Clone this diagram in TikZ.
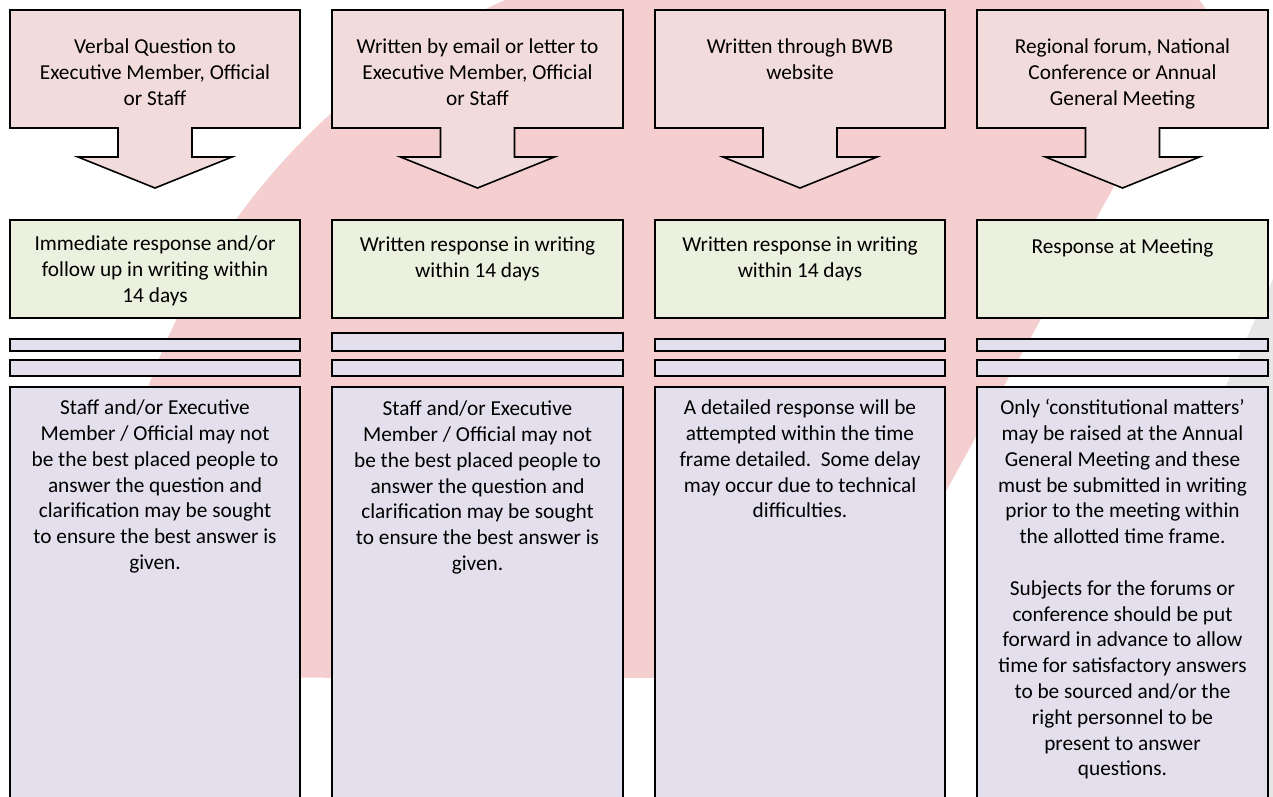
\documentclass[tikz,border=0pt]{standalone}
\usepackage{fontspec}
\setmainfont{Carlito}
\definecolor{bgpink}{HTML}{F5CED0}
\definecolor{bggray}{HTML}{E6E6E6}
\definecolor{toppink}{HTML}{F2DCDB}
\definecolor{resgreen}{HTML}{EBF1DE}
\definecolor{notelav}{HTML}{E4DFEC}
\tikzset{
  outline/.style={draw=black, line width=1.6pt, line join=miter},
  qbox/.style={outline, fill=toppink},
  rbox/.style={outline, fill=resgreen},
  lbox/.style={outline, fill=notelav},
  txt/.style={anchor=north, inner sep=0pt, align=center, font=\fontsize{21.3}{25.8}\selectfont}
}
\begin{document}
\begin{tikzpicture}[x=1pt,y=-1pt]
\clip (0,0) rectangle (1273,796);
\fill[white] (0,0) rectangle (1273,796);
% background logo shapes
\fill[bggray] (1290,240) -- (1000,900) -- (1320,900) -- cycle;
\fill[bgpink] (843,678) -- (1203,25) .. controls (1212,8) and (1200,-2) .. (1185,-8)
  .. controls (900,-150) and (620,-60) .. (505,0)
  arc[start angle=245.8, end angle=174.3, radius=670] -- cycle;
% columns
\foreach \L/\R/\by in {10/300/339, 332/623/333, 655/945/339, 977/1268/339}{
  \pgfmathsetmacro{\c}{(\L+\R)/2}
  \draw[qbox] (\L,10) -- (\R,10) -- (\R,128) -- (\c+37,128) -- (\c+37,157) -- (\c+77,157)
    -- (\c,188) -- (\c-77,157) -- (\c-37,157) -- (\c-37,128) -- (\L,128) -- cycle;
  \draw[rbox] (\L,220) rectangle (\R,318);
  \draw[lbox] (\L,\by) rectangle (\R,351);
  \draw[lbox] (\L,360) rectangle (\R,376);
  \draw[lbox] (\L,387) rectangle (\R,820);
}
% question texts
\node[txt] (q1) at (155,35.5) {\strut Verbal Question to\\Executive Member, Official\\or Staff};
\node[txt] (q2) at (477.5,35.5) {\strut Written by email or letter to\\Executive Member, Official\\or Staff};
\node[txt] (q3) at (800,35.5) {\strut Written through BWB\\website};
\node[txt] (q4) at (1122.5,35.5) {\strut Regional forum, National\\Conference or Annual\\General Meeting};
% response texts
\node[txt] (r1) at (155,232.5) {\strut Immediate response and/or\\follow up in writing within\\14 days};
\node[txt] (r2) at (477.5,233.5) {\strut Written response in writing\\within 14 days};
\node[txt] (r3) at (800,233.5) {\strut Written response in writing\\within 14 days};
\node[txt] (r4) at (1122.5,235) {\strut Response at Meeting};
% note texts
\node[txt] (n1) at (155,396.5) {\strut Staff and/or Executive\\Member / Official may not\\be the best placed people to\\answer the question and\\clarification may be sought\\to ensure the best answer is\\given.};
\node[txt] (n2) at (477.5,397.5) {\strut Staff and/or Executive\\Member / Official may not\\be the best placed people to\\answer the question and\\clarification may be sought\\to ensure the best answer is\\given.};
\node[txt] (n3) at (800,396.5) {\strut A detailed response will be\\attempted within the time\\frame detailed.\ \ Some delay\\may occur due to technical\\difficulties.};
\node[txt] (n4) at (1122.5,396.5) {\strut Only ‘constitutional matters’\\may be raised at the Annual\\General Meeting and these\\must be submitted in writing\\prior to the meeting within\\the allotted time frame.\\[25.8pt]Subjects for the forums or\\conference should be put\\forward in advance to allow\\time for satisfactory answers\\to be sourced and/or the\\right personnel to be\\present to answer\\questions.};
\end{tikzpicture}
\end{document}
